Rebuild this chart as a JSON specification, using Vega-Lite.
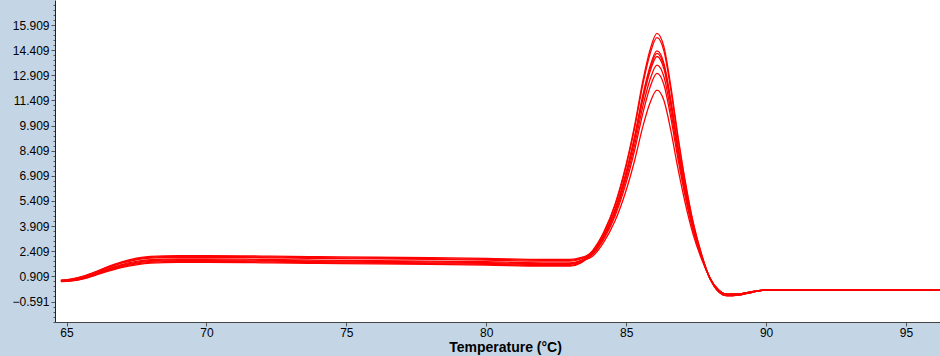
{
"$schema": "https://vega.github.io/schema/vega-lite/v6.json",
"width": 885, "height": 322,
"autosize": {"type": "none"},
"padding": {"left": 55, "top": 0, "right": 0, "bottom": 34},
"background": "#c4d6e6",
"config": {"view": {"fill": "white", "stroke": null}, "font": "Liberation Sans"},
"datasets": {"curves": [
{"s":"A","t":64.8,"v":0.66},{"s":"A","t":65.2,"v":0.73},{"s":"A","t":65.6,"v":0.88},{"s":"A","t":66.0,"v":1.11},{"s":"A","t":66.5,"v":1.43},{"s":"A","t":67.0,"v":1.71},{"s":"A","t":67.5,"v":1.90},{"s":"A","t":68,"v":2.00},{"s":"A","t":69,"v":2.05},{"s":"A","t":70,"v":2.05},{"s":"A","t":72,"v":2.02},{"s":"A","t":74,"v":1.98},{"s":"A","t":76,"v":1.95},{"s":"A","t":78,"v":1.92},{"s":"A","t":80,"v":1.88},{"s":"A","t":82,"v":1.82},{"s":"A","t":83,"v":1.82},{"s":"A","t":83.4,"v":1.96},
{"s":"A","t":83.8,"v":2.45},{"s":"A","t":84.2,"v":3.55},{"s":"A","t":84.6,"v":5.2},{"s":"A","t":85.0,"v":7.6},{"s":"A","t":85.3,"v":9.9},{"s":"A","t":85.6,"v":12.6},{"s":"A","t":85.85,"v":14.4},{"s":"A","t":86.1,"v":15.41},{"s":"A","t":86.35,"v":14.6},{"s":"A","t":86.6,"v":12.2},{"s":"A","t":86.85,"v":9.3},{"s":"A","t":87.1,"v":6.7},{"s":"A","t":87.4,"v":4.1},{"s":"A","t":87.7,"v":2.2},{"s":"A","t":88.0,"v":0.75},
{"s":"A","t":88.3,"v":0.1},{"s":"A","t":88.6,"v":-0.15},{"s":"A","t":89.0,"v":-0.14},{"s":"A","t":89.5,"v":0.0},{"s":"A","t":90.0,"v":0.1},{"s":"A","t":91,"v":0.11},{"s":"A","t":93,"v":0.11},{"s":"A","t":96.2,"v":0.11},
{"s":"B","t":64.8,"v":0.62},{"s":"B","t":65.2,"v":0.67},{"s":"B","t":65.6,"v":0.80},{"s":"B","t":66.0,"v":1.01},{"s":"B","t":66.5,"v":1.29},{"s":"B","t":67.0,"v":1.54},{"s":"B","t":67.5,"v":1.70},{"s":"B","t":68,"v":1.80},{"s":"B","t":69,"v":1.85},{"s":"B","t":70,"v":1.85},{"s":"B","t":72,"v":1.82},{"s":"B","t":74,"v":1.78},{"s":"B","t":76,"v":1.75},{"s":"B","t":78,"v":1.72},{"s":"B","t":80,"v":1.68},{"s":"B","t":82,"v":1.62},{"s":"B","t":83,"v":1.62},{"s":"B","t":83.4,"v":1.80},
{"s":"B","t":83.8,"v":2.42},{"s":"B","t":84.2,"v":3.50},{"s":"B","t":84.6,"v":5.12},{"s":"B","t":85.0,"v":7.48},{"s":"B","t":85.3,"v":9.74},{"s":"B","t":85.6,"v":12.39},{"s":"B","t":85.85,"v":14.16},{"s":"B","t":86.1,"v":15.15},{"s":"B","t":86.35,"v":14.36},{"s":"B","t":86.6,"v":12.0},{"s":"B","t":86.85,"v":9.15},{"s":"B","t":87.1,"v":6.6},{"s":"B","t":87.4,"v":4.04},{"s":"B","t":87.7,"v":2.18},{"s":"B","t":88.0,"v":0.75},
{"s":"B","t":88.3,"v":0.0},{"s":"B","t":88.6,"v":-0.24},{"s":"B","t":89.0,"v":-0.21},{"s":"B","t":89.5,"v":-0.04},{"s":"B","t":90.0,"v":0.1},{"s":"B","t":91,"v":0.11},{"s":"B","t":93,"v":0.11},{"s":"B","t":96.2,"v":0.11},
{"s":"C","t":64.8,"v":0.68},{"s":"C","t":65.2,"v":0.76},{"s":"C","t":65.6,"v":0.92},{"s":"C","t":66.0,"v":1.16},{"s":"C","t":66.5,"v":1.50},{"s":"C","t":67.0,"v":1.79},{"s":"C","t":67.5,"v":2.00},{"s":"C","t":68,"v":2.10},{"s":"C","t":69,"v":2.15},{"s":"C","t":70,"v":2.15},{"s":"C","t":72,"v":2.12},{"s":"C","t":74,"v":2.08},{"s":"C","t":76,"v":2.05},{"s":"C","t":78,"v":2.02},{"s":"C","t":80,"v":1.98},{"s":"C","t":82,"v":1.92},{"s":"C","t":83,"v":1.92},{"s":"C","t":83.4,"v":2.04},
{"s":"C","t":83.8,"v":2.34},{"s":"C","t":84.2,"v":3.36},{"s":"C","t":84.6,"v":4.89},{"s":"C","t":85.0,"v":7.12},{"s":"C","t":85.3,"v":9.25},{"s":"C","t":85.6,"v":11.75},{"s":"C","t":85.85,"v":13.42},{"s":"C","t":86.1,"v":14.36},{"s":"C","t":86.35,"v":13.61},{"s":"C","t":86.6,"v":11.38},{"s":"C","t":86.85,"v":8.69},{"s":"C","t":87.1,"v":6.28},{"s":"C","t":87.4,"v":3.87},{"s":"C","t":87.7,"v":2.11},{"s":"C","t":88.0,"v":0.77},
{"s":"C","t":88.3,"v":0.1},{"s":"C","t":88.6,"v":-0.15},{"s":"C","t":89.0,"v":-0.14},{"s":"C","t":89.5,"v":0.0},{"s":"C","t":90.0,"v":0.1},{"s":"C","t":91,"v":0.11},{"s":"C","t":93,"v":0.11},{"s":"C","t":96.2,"v":0.11},
{"s":"D","t":64.8,"v":0.64},{"s":"D","t":65.2,"v":0.70},{"s":"D","t":65.6,"v":0.84},{"s":"D","t":66.0,"v":1.06},{"s":"D","t":66.5,"v":1.36},{"s":"D","t":67.0,"v":1.62},{"s":"D","t":67.5,"v":1.80},{"s":"D","t":68,"v":1.90},{"s":"D","t":69,"v":1.95},{"s":"D","t":70,"v":1.95},{"s":"D","t":72,"v":1.92},{"s":"D","t":74,"v":1.88},{"s":"D","t":76,"v":1.85},{"s":"D","t":78,"v":1.82},{"s":"D","t":80,"v":1.78},{"s":"D","t":82,"v":1.72},{"s":"D","t":83,"v":1.72},{"s":"D","t":83.4,"v":1.88},
{"s":"D","t":83.8,"v":2.33},{"s":"D","t":84.2,"v":3.34},{"s":"D","t":84.6,"v":4.85},{"s":"D","t":85.0,"v":7.05},{"s":"D","t":85.3,"v":9.16},{"s":"D","t":85.6,"v":11.64},{"s":"D","t":85.85,"v":13.29},{"s":"D","t":86.1,"v":14.21},{"s":"D","t":86.35,"v":13.47},{"s":"D","t":86.6,"v":11.27},{"s":"D","t":86.85,"v":8.61},{"s":"D","t":87.1,"v":6.23},{"s":"D","t":87.4,"v":3.84},{"s":"D","t":87.7,"v":2.1},{"s":"D","t":88.0,"v":0.77},
{"s":"D","t":88.3,"v":0.0},{"s":"D","t":88.6,"v":-0.24},{"s":"D","t":89.0,"v":-0.21},{"s":"D","t":89.5,"v":-0.04},{"s":"D","t":90.0,"v":0.1},{"s":"D","t":91,"v":0.11},{"s":"D","t":93,"v":0.11},{"s":"D","t":96.2,"v":0.11},
{"s":"E","t":64.8,"v":0.60},{"s":"E","t":65.2,"v":0.64},{"s":"E","t":65.6,"v":0.76},{"s":"E","t":66.0,"v":0.96},{"s":"E","t":66.5,"v":1.22},{"s":"E","t":67.0,"v":1.45},{"s":"E","t":67.5,"v":1.60},{"s":"E","t":68,"v":1.70},{"s":"E","t":69,"v":1.75},{"s":"E","t":70,"v":1.75},{"s":"E","t":72,"v":1.72},{"s":"E","t":74,"v":1.68},{"s":"E","t":76,"v":1.65},{"s":"E","t":78,"v":1.62},{"s":"E","t":80,"v":1.58},{"s":"E","t":82,"v":1.52},{"s":"E","t":83,"v":1.52},{"s":"E","t":83.4,"v":1.72},
{"s":"E","t":83.8,"v":2.31},{"s":"E","t":84.2,"v":3.31},{"s":"E","t":84.6,"v":4.80},{"s":"E","t":85.0,"v":6.97},{"s":"E","t":85.3,"v":9.05},{"s":"E","t":85.6,"v":11.49},{"s":"E","t":85.85,"v":13.11},{"s":"E","t":86.1,"v":14.03},{"s":"E","t":86.35,"v":13.29},{"s":"E","t":86.6,"v":11.12},{"s":"E","t":86.85,"v":8.50},{"s":"E","t":87.1,"v":6.15},{"s":"E","t":87.4,"v":3.80},{"s":"E","t":87.7,"v":2.08},{"s":"E","t":88.0,"v":0.77},
{"s":"E","t":88.3,"v":0.1},{"s":"E","t":88.6,"v":-0.15},{"s":"E","t":89.0,"v":-0.14},{"s":"E","t":89.5,"v":0.0},{"s":"E","t":90.0,"v":0.1},{"s":"E","t":91,"v":0.11},{"s":"E","t":93,"v":0.11},{"s":"E","t":96.2,"v":0.11},
{"s":"F","t":64.8,"v":0.67},{"s":"F","t":65.2,"v":0.75},{"s":"F","t":65.6,"v":0.90},{"s":"F","t":66.0,"v":1.14},{"s":"F","t":66.5,"v":1.47},{"s":"F","t":67.0,"v":1.75},{"s":"F","t":67.5,"v":1.95},{"s":"F","t":68,"v":2.05},{"s":"F","t":69,"v":2.10},{"s":"F","t":70,"v":2.10},{"s":"F","t":72,"v":2.07},{"s":"F","t":74,"v":2.03},{"s":"F","t":76,"v":2.00},{"s":"F","t":78,"v":1.97},{"s":"F","t":80,"v":1.93},{"s":"F","t":82,"v":1.87},{"s":"F","t":83,"v":1.87},{"s":"F","t":83.4,"v":2.00},
{"s":"F","t":83.8,"v":2.26},{"s":"F","t":84.2,"v":3.22},{"s":"F","t":84.6,"v":4.65},{"s":"F","t":85.0,"v":6.74},{"s":"F","t":85.3,"v":8.73},{"s":"F","t":85.6,"v":11.08},{"s":"F","t":85.85,"v":12.64},{"s":"F","t":86.1,"v":13.52},{"s":"F","t":86.35,"v":12.82},{"s":"F","t":86.6,"v":10.73},{"s":"F","t":86.85,"v":8.21},{"s":"F","t":87.1,"v":5.95},{"s":"F","t":87.4,"v":3.69},{"s":"F","t":87.7,"v":2.04},{"s":"F","t":88.0,"v":0.78},
{"s":"F","t":88.3,"v":0.0},{"s":"F","t":88.6,"v":-0.24},{"s":"F","t":89.0,"v":-0.21},{"s":"F","t":89.5,"v":-0.04},{"s":"F","t":90.0,"v":0.1},{"s":"F","t":91,"v":0.11},{"s":"F","t":93,"v":0.11},{"s":"F","t":96.2,"v":0.11},
{"s":"G","t":64.8,"v":0.61},{"s":"G","t":65.2,"v":0.66},{"s":"G","t":65.6,"v":0.78},{"s":"G","t":66.0,"v":0.98},{"s":"G","t":66.5,"v":1.26},{"s":"G","t":67.0,"v":1.49},{"s":"G","t":67.5,"v":1.65},{"s":"G","t":68,"v":1.75},{"s":"G","t":69,"v":1.80},{"s":"G","t":70,"v":1.80},{"s":"G","t":72,"v":1.77},{"s":"G","t":74,"v":1.73},{"s":"G","t":76,"v":1.70},{"s":"G","t":78,"v":1.67},{"s":"G","t":80,"v":1.63},{"s":"G","t":82,"v":1.57},{"s":"G","t":83,"v":1.57},{"s":"G","t":83.4,"v":1.76},
{"s":"G","t":83.8,"v":2.21},{"s":"G","t":84.2,"v":3.13},{"s":"G","t":84.6,"v":4.50},{"s":"G","t":85.0,"v":6.50},{"s":"G","t":85.3,"v":8.42},{"s":"G","t":85.6,"v":10.67},{"s":"G","t":85.85,"v":12.18},{"s":"G","t":86.1,"v":13.02},{"s":"G","t":86.35,"v":12.34},{"s":"G","t":86.6,"v":10.34},{"s":"G","t":86.85,"v":7.92},{"s":"G","t":87.1,"v":5.75},{"s":"G","t":87.4,"v":3.59},{"s":"G","t":87.7,"v":2.0},{"s":"G","t":88.0,"v":0.79},
{"s":"G","t":88.3,"v":0.1},{"s":"G","t":88.6,"v":-0.15},{"s":"G","t":89.0,"v":-0.14},{"s":"G","t":89.5,"v":0.0},{"s":"G","t":90.0,"v":0.1},{"s":"G","t":91,"v":0.11},{"s":"G","t":93,"v":0.11},{"s":"G","t":96.2,"v":0.11},
{"s":"H","t":64.8,"v":0.63},{"s":"H","t":65.2,"v":0.69},{"s":"H","t":65.6,"v":0.82},{"s":"H","t":66.0,"v":1.04},{"s":"H","t":66.5,"v":1.33},{"s":"H","t":67.0,"v":1.58},{"s":"H","t":67.5,"v":1.75},{"s":"H","t":68,"v":1.85},{"s":"H","t":69,"v":1.90},{"s":"H","t":70,"v":1.90},{"s":"H","t":72,"v":1.87},{"s":"H","t":74,"v":1.83},{"s":"H","t":76,"v":1.80},{"s":"H","t":78,"v":1.77},{"s":"H","t":80,"v":1.73},{"s":"H","t":82,"v":1.67},{"s":"H","t":83,"v":1.67},{"s":"H","t":83.4,"v":1.84},
{"s":"H","t":83.8,"v":2.11},{"s":"H","t":84.2,"v":2.95},{"s":"H","t":84.6,"v":4.21},{"s":"H","t":85.0,"v":6.05},{"s":"H","t":85.3,"v":7.81},{"s":"H","t":85.6,"v":9.87},{"s":"H","t":85.85,"v":11.25},{"s":"H","t":86.1,"v":12.02},{"s":"H","t":86.35,"v":11.40},{"s":"H","t":86.6,"v":9.57},{"s":"H","t":86.85,"v":7.35},{"s":"H","t":87.1,"v":5.36},{"s":"H","t":87.4,"v":3.37},{"s":"H","t":87.7,"v":1.92},{"s":"H","t":88.0,"v":0.81},
{"s":"H","t":88.3,"v":0.0},{"s":"H","t":88.6,"v":-0.24},{"s":"H","t":89.0,"v":-0.21},{"s":"H","t":89.5,"v":-0.04},{"s":"H","t":90.0,"v":0.1},{"s":"H","t":91,"v":0.11},{"s":"H","t":93,"v":0.11},{"s":"H","t":96.2,"v":0.11}
]},
"data": {"name": "curves"},
"mark": {"type": "line", "color": "#ff0000", "strokeWidth": 1.3, "interpolate": "monotone", "clip": true},
"encoding": {
  "x": {"field": "t", "type": "quantitative",
    "scale": {"domain": [64.589, 96.215], "nice": false, "zero": false},
    "axis": {"values": [65, 70, 75, 80, 85, 90, 95], "format": "d", "grid": false,
      "title": "Temperature (°C)", "titleFont": "Liberation Sans", "titleFontSize": 14, "titleFontWeight": "bold", "titleColor": "#000000",
      "titleX": 450, "titleY": 29, "titleAlign": "center", "titleBaseline": "alphabetic",
      "labelFontSize": 12, "labelColor": "#000000", "labelPadding": 1, "labelFlush": false, "labelOverlap": false,
      "tickSize": 4, "tickColor": "#555555", "domainColor": "#444444", "domainWidth": 1}},
  "y": {"field": "v", "type": "quantitative",
    "scale": {"domain": [-1.814, 17.401], "nice": false, "zero": false},
    "axis": {"values": [-1.791,-1.491,-1.191,-0.891,-0.591,-0.291,0.009,0.309,0.609,0.909,1.209,1.509,1.809,2.109,2.409,2.709,3.009,3.309,3.609,3.909,4.209,4.509,4.809,5.109,5.409,5.709,6.009,6.309,6.609,6.909,7.209,7.509,7.809,8.109,8.409,8.709,9.009,9.309,9.609,9.909,10.209,10.509,10.809,11.109,11.409,11.709,12.009,12.309,12.609,12.909,13.209,13.509,13.809,14.109,14.409,14.709,15.009,15.309,15.609,15.909,16.209,16.509,16.809,17.109],
      "labelExpr": "(abs((datum.value + 0.591) / 1.5 - round((datum.value + 0.591) / 1.5)) < 0.01 && datum.value > -1 && datum.value < 16) ? format(datum.value, '.3f') : ''",
      "tickSize": {"condition": {"test": "abs((datum.value + 0.591) / 1.5 - round((datum.value + 0.591) / 1.5)) < 0.01 && datum.value > -1 && datum.value < 16", "value": 4}, "value": 2},
      "title": null, "grid": false,
      "labelFontSize": 12, "labelColor": "#000000", "labelPadding": 2, "labelFlush": false, "labelOverlap": false,
      "tickColor": "#555555", "domainColor": "#222222", "domainWidth": 1}},
  "detail": {"field": "s"}
}
}
